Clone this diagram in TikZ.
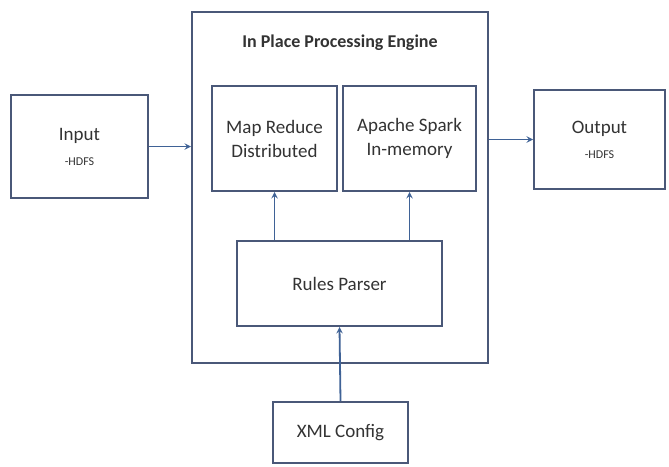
\documentclass[tikz,border=0pt]{standalone}
\usepackage{fontspec}
\setmainfont{Carlito}
\usepackage{xcolor}
\usepackage{tikz}
\usetikzlibrary{arrows, positioning}
\definecolor{boxline}{HTML}{4A5878}
\definecolor{arrowline}{HTML}{3F6296}
\definecolor{boxtext}{HTML}{333333}
\newcommand{\hdfslabel}{{\fontsize{12}{14}\selectfont -HDFS}}
\tikzstyle{arrow} = [line width=1.8pt, arrowline, ->, >=stealth]

\begin{document}
\begin{tikzpicture}[
			x=1pt, y=-1pt,
			box/.style={rectangle, draw=boxline, line width=2pt, fill=white, text=boxtext, align=center, inner sep=0pt, font=\fontsize{19}{24}\selectfont}
			]
			\useasboundingbox (0,0) rectangle (669,466);
			
			% Outer engine box and its title
			\node[box, minimum width=296pt, minimum height=351pt] (engine) at (340,187.5) {};
			\node[text=boxtext, font=\bfseries\fontsize{18}{22}\selectfont] (title) at (340,43) {In Place Processing Engine};
			
			% Blocks
			\node[box, minimum width=137pt, minimum height=103pt] (input) at (79.5,146.5) {Input\\[1pt]\hdfslabel};
			\node[box, minimum width=125pt, minimum height=105pt] (mapred) at (274.5,138.5) {Map Reduce\\Distributed};
			\node[box, minimum width=133pt, minimum height=105pt] (spark) at (409.5,138.5) {Apache Spark\\In-memory};
			\node[box, minimum width=205pt, minimum height=85pt] (rules) at (339.5,283.5) {Rules Parser};
			\node[box, minimum width=135pt, minimum height=61pt] (xml) at (340.5,432.5) {XML Config};
			\node[box, minimum width=131pt, minimum height=99pt] (output) at (599.5,139.5) {Output\\[1pt]\hdfslabel};
			
			% Connections
			\draw[arrow] (input.east) -- (input.east -| engine.west);
			\draw[arrow] (engine.east |- output.west) -- (output.west);
			\draw[arrow] (mapred.south |- rules.north) -- (mapred.south);
			\draw[arrow] (spark.south |- rules.north) -- (spark.south);
			\draw[arrow] (xml.north) -- (rules.south);
			
		\end{tikzpicture}
\end{document}
